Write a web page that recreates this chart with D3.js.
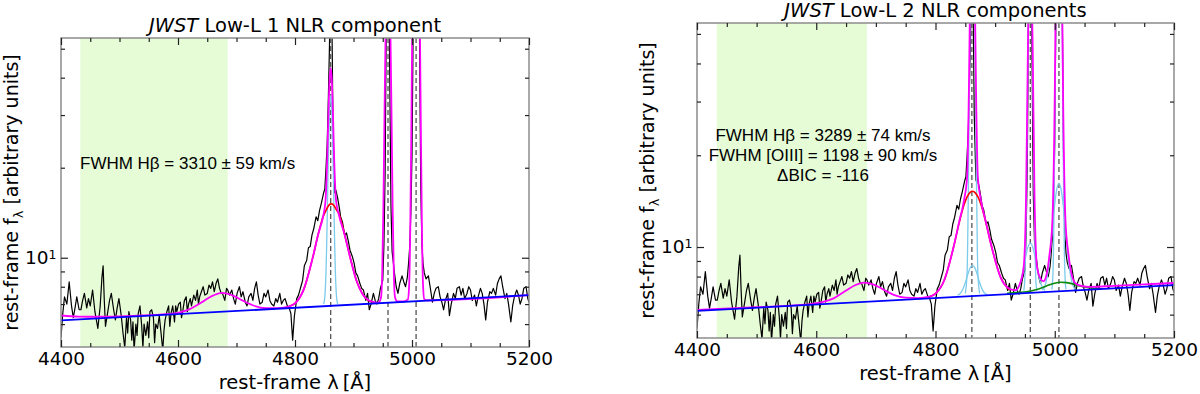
<!DOCTYPE html>
<html>
<head>
<meta charset="utf-8">
<script src="https://cdn.jsdelivr.net/npm/d3@7"></script>
<style>
body{margin:0;background:#fff}
svg{display:block}
</style>
</head>
<body>
<svg id="chart" width="1200" height="394"></svg>
<script>

// observed spectrum, [rest wavelength (A), flux] - same spectrum in both panels
var spectrum = [[4400,5.4],[4403,6.5],[4406,7.4],[4410,7.0],[4414,8.3],[4418,6.9],[4421,6.3],[4424,6.8],[4427,7.4],[4431,6.7],
[4434,6.7],[4437,7.2],[4440,7.6],[4444,6.8],[4447,7.3],[4450,6.9],[4454,7.8],[4458,6.6],[4463,5.8],[4467,6.9],
[4470,8.6],[4472,9.4],[4474,7.2],[4476,5.9],[4480,6.6],[4483,7.2],[4486,7.6],[4490,6.7],[4493,6.2],[4496,6.8],
[4499,7.3],[4503,6.4],[4506,5.6],[4509,5.0],[4512,6.3],[4514,5.6],[4516,6.6],[4519,6.2],[4521,5.3],[4523,6.1],
[4525,4.9],[4528,6.0],[4530,5.5],[4532,6.5],[4535,6.9],[4538,5.9],[4540,5.0],[4542,6.0],[4545,5.5],[4548,6.1],
[4550,5.4],[4552,6.6],[4555,6.7],[4558,6.3],[4560,5.2],[4562,6.0],[4565,5.8],[4568,6.4],[4571,5.6],[4574,4.9],
[4576,5.7],[4578,6.2],[4581,6.6],[4584,6.9],[4586,5.9],[4588,6.5],[4591,6.9],[4594,6.1],[4596,6.9],[4598,6.6],
[4601,7.0],[4604,7.1],[4606,6.3],[4608,6.6],[4611,7.2],[4614,7.4],[4616,6.6],[4618,7.0],[4621,7.3],[4623,6.9],
[4627,7.5],[4630,7.2],[4633,7.8],[4635,7.0],[4637,7.4],[4640,7.7],[4643,8.0],[4646,7.5],[4650,7.6],[4653,8.1],
[4656,7.9],[4659,8.3],[4662,7.7],[4665,8.2],[4668,8.5],[4671,7.9],[4674,7.6],[4676,7.6],[4680,7.2],[4683,7.9],
[4685,7.8],[4688,7.5],[4692,7.8],[4695,7.3],[4698,7.0],[4701,7.6],[4705,8.0],[4708,7.4],[4711,7.7],[4715,7.1],
[4718,6.9],[4721,7.4],[4725,7.6],[4728,7.2],[4731,7.9],[4734,8.3],[4737,7.5],[4740,7.0],[4744,7.1],[4747,7.6],
[4750,7.4],[4754,7.8],[4757,7.2],[4760,7.0],[4764,6.9],[4767,7.3],[4770,7.1],[4774,7.6],[4777,7.0],[4780,7.2],
[4783,7.3],[4787,6.9],[4790,6.8],[4793,6.5],[4796,5.3],[4799,6.4],[4803,7.3],[4806,7.5],[4810,8.0],[4813,8.4],
[4816,9.4],[4820,9.8],[4823,10.8],[4826,10.9],[4829,11.9],[4832,12.5],[4836,13.7],[4839,13.3],[4842,14.4],[4845,15.2],
[4849,16.5],[4851,17.0],[4853,19.9],[4855,24],[4857,34],[4859,52],[4860,70],[4862,80],[4863,65],[4865,27],
[4867,19],[4868,16.5],[4870,16.8],[4873,15.8],[4876,14.6],[4878,13.7],[4881,13.2],[4885,11.9],[4888,12.1],[4891,11.4],
[4894,10.6],[4898,10.1],[4901,9.6],[4904,8.9],[4907,8.7],[4911,8.2],[4914,7.9],[4917,7.8],[4921,7.2],[4924,7.6],
[4927,6.7],[4930,7.0],[4934,7.6],[4937,7.2],[4940,7.0],[4943,7.3],[4946,7.9],[4950,8.4],[4952,11],[4954,19],
[4956,60],[4958,120],[4960,100],[4962,40],[4964,15],[4966,10.5],[4970,8.9],[4973,8.0],[4976,7.6],[4979,8.2],
[4983,8.7],[4986,8.3],[4989,8.0],[4992,8.6],[4994,9.5],[4996,10.8],[4998,14],[5000,22],[5002,60],[5005,200],
[5008,250],[5011,150],[5013,50],[5015,17],[5017,11],[5019,9.5],[5021,8.9],[5024,8.5],[5028,8.7],[5031,8.0],
[5035,7.1],[5038,7.6],[5041,7.9],[5045,8.0],[5048,7.4],[5051,7.1],[5054,6.7],[5057,7.2],[5061,7.6],[5064,6.4],
[5067,7.0],[5071,7.6],[5074,7.3],[5077,7.9],[5081,8.0],[5084,7.5],[5087,7.9],[5090,7.3],[5094,7.6],[5097,8.0],
[5100,7.8],[5103,7.2],[5107,7.5],[5110,6.9],[5113,7.4],[5117,7.9],[5120,7.6],[5123,7.0],[5126,6.2],[5129,7.1],
[5133,7.7],[5136,7.6],[5139,7.9],[5143,7.5],[5146,8.2],[5149,8.5],[5152,8.7],[5155,8.0],[5159,7.3],[5162,7.6],
[5165,7.0],[5169,6.1],[5172,6.9],[5175,7.4],[5179,7.8],[5182,7.5],[5185,7.0],[5188,7.3],[5191,7.9],[5195,8.0],
[5198,7.3],[5200,7.1]];

// power-law continuum (blue)
var continuum = [[4400,6.17],[5200,7.50]];

// 1 NLR component fit
var fit1Total = [[4400,6.41],[4430,6.36],[4460,6.35],[4500,6.37],[4540,6.41],[4580,6.48],[4600,6.54],[4620,6.73],[4640,7.08],[4655,7.39],
[4675,7.63],[4695,7.46],[4710,7.20],[4730,6.91],[4750,6.79],[4770,6.79],[4785,6.84],[4800,7.04],[4815,7.84],[4830,9.95],
[4840,12.05],[4848,13.74],[4852,15.39],[4855,21.15],[4857,29.5],[4859,38.9],[4861,43.1],[4863,38.9],[4865,29.7],[4867,21.3],
[4870,15.65],[4875,13.93],[4885,11.91],[4895,9.88],[4905,8.39],[4915,7.58],[4925,7.22],[4935,7.11],[4943,7.08],[4947,7.36],
[4949,8.79],[4951,14.4],[4953,30.1],[4955,59],[4957,92],[4959,107],[4961,92],[4963,59],[4965,30.1],[4967,14.4],
[4969,8.79],[4971,7.37],[4975,7.15],[4985,7.14],[4993,7.26],[4995,8.0],[4997,12.3],[4999,29],[5001,76],[5003,156],
[5005,255],[5007,307],[5009,255],[5011,156],[5013,76],[5015,29],[5017,12.3],[5019,8.0],[5021,7.27],[5025,7.21],[5200,7.50]];
var fit1Broad = [[4790,6.88],[4800,7.04],[4815,7.84],[4830,9.95],[4840,12.05],[4848,13.70],[4853,14.40],[4858,15.00],[4862,15.14],
[4866,15.00],[4871,14.45],[4876,13.90],[4885,11.90],[4895,9.90],[4905,8.40],[4915,7.60],[4925,7.20],[4935,7.10]];
var fit1NarrowHb = [[4849,7.0],[4851,7.4],[4853,9.0],[4854,10.7],[4855,13.3],[4856,17.0],[4857,21.5],[4859,30.7],[4861,34.9],
[4863,30.7],[4865,21.5],[4866,17.0],[4867,13.3],[4868,10.7],[4869,9.0],[4871,7.4],[4873,7.0]];

// 2 NLR components fit
var fit2Total = [[4400,6.22],[4500,6.35],[4580,6.47],[4610,6.59],[4630,6.80],[4650,7.20],[4665,7.49],[4680,7.64],[4695,7.54],[4710,7.30],
[4730,6.97],[4750,6.82],[4770,6.80],[4790,6.87],[4800,7.03],[4815,7.81],[4830,9.94],[4840,12.17],[4848,14.30],[4853,16.97],
[4856,32.6],[4858,66],[4862,137],[4866,66],[4868,32.6],[4871,17.0],[4876,14.3],[4884,12.2],[4894,10.04],[4909,7.97],
[4924,7.30],[4934,7.22],[4942,7.62],[4948,8.64],[4952,15.1],[4955,44.9],[4957,78.3],[4959,95.4],[4961,78.3],[4963,44.9],
[4966,15.1],[4970,8.65],[4976,7.89],[4981,7.72],[4986,8.08],[4991,9.37],[4996,12.15],[5000,31.1],[5003,120.6],[5007,271.7],
[5011,120.6],[5014,31.1],[5018,12.2],[5023,9.48],[5028,8.18],[5035,7.59],[5045,7.45],[5060,7.40],[5100,7.46],[5150,7.54],[5200,7.62]];
var fit2Broad = [[4790,6.87],[4800,7.03],[4815,7.81],[4830,9.94],[4840,12.08],[4848,13.78],[4853,14.60],[4858,15.11],[4862,15.24],
[4866,15.11],[4871,14.62],[4876,13.84],[4884,12.15],[4894,10.04],[4909,7.97],[4924,7.23]];
var fit2CoreHb = [[4850,7.05],[4853,8.25],[4854,10.4],[4855,14.9],[4856,23.1],[4857,36.8],[4858,56.2],[4859,80],[4862,127],
[4865,80],[4866,56.2],[4867,36.8],[4868,23.1],[4869,14.9],[4870,10.4],[4871,8.25],[4874,7.05]];
var fit2WingHb = [[4837,6.95],[4842,7.06],[4846,7.28],[4850,7.64],[4854,8.12],[4858,8.53],[4862,8.70],[4866,8.54],[4870,8.13],
[4874,7.65],[4878,7.29],[4882,7.07],[4887,6.97]];
var fit2Core4959 = [[4948,7.2],[4949,7.44],[4950,8.04],[4951,9.6],[4952,12.7],[4953,18.6],[4954,28.3],[4955,42],[4956,58.7],[4959,92],
[4962,58.7],[4963,42],[4964,28.3],[4965,18.6],[4966,12.7],[4967,9.6],[4968,8.04],[4969,7.44],[4970,7.2]];
var fit2Wing4959 = [[4934,7.16],[4939,7.36],[4943,7.75],[4947,8.41],[4951,9.26],[4955,9.99],[4959,10.30],[4963,10.0],[4967,9.27],
[4971,8.42],[4975,7.78],[4979,7.39],[4984,7.2]];
var fit2Core5007 = [[4995,7.26],[4996,7.5],[4997,8.2],[4998,10],[4999,14.6],[5000,24],[5001,41.6],[5002,70.7],[5003,112],[5004,162],
[5007,262],[5010,162],[5011,112],[5012,70.7],[5013,41.6],[5014,24],[5015,14.6],[5016,10],[5017,8.2],[5018,7.5],[5019,7.26]];
var fit2Wing5007 = [[4979,7.23],[4983,7.41],[4987,7.94],[4991,9.03],[4995,10.88],[4999,13.25],[5003,15.33],[5007,16.18],[5011,15.33],
[5015,13.25],[5019,10.88],[5023,9.03],[5027,7.95],[5031,7.43],[5035,7.26]];
var fit2Green = [[4920,7.05],[4960,7.17],[4970,7.25],[4980,7.37],[4990,7.50],[5000,7.61],[5010,7.66],[5020,7.64],[5030,7.57],
[5040,7.46],[5050,7.38],[5060,7.34],[5070,7.31],[5080,7.30]];

var lineCentres = [4861, 4959, 5007];
var shadedBand = [4433, 4685];
var xMajor = [4400, 4600, 4800, 5000, 5200];
var xMinor = [4450, 4500, 4550, 4650, 4700, 4750, 4850, 4900, 4950, 5050, 5100, 5150];
var yMajor = [10];
var yMinor = [6, 7, 8, 9, 20, 30, 40, 50];

var svg = d3.select('#chart');

var panels = [
  {id: 'a', l: 61, r: 529, t: 38, b: 347, title: ' Low-L 1 NLR component',
   notes: [{text: 'FWHM H\u03b2 = 3310 \u00b1 59 km/s', x: 80, y: 169, anchor: 'start'}],
   cyan: [fit1NarrowHb], green: null, red: fit1Broad, total: fit1Total},
  {id: 'b', l: 697, r: 1174, t: 23, b: 338, title: ' Low-L 2 NLR components',
   notes: [{text: 'FWHM H\u03b2 = 3289 \u00b1 74 km/s', x: 823, y: 141, anchor: 'middle'},
           {text: 'FWHM [OIII] = 1198 \u00b1 90 km/s', x: 823, y: 161, anchor: 'middle'},
           {text: '\u0394BIC = -116', x: 823, y: 181, anchor: 'middle'}],
   cyan: [fit2WingHb, fit2Wing4959, fit2Wing5007, fit2CoreHb, fit2Core4959, fit2Core5007],
   green: fit2Green, red: fit2Broad, total: fit2Total}
];

var sans = 'DejaVu Sans, sans-serif';

panels.forEach(function(p){

  var x = d3.scaleLinear().domain([4400, 5200]).range([p.l, p.r]);
  var y = d3.scaleLog().domain([5.03, 54.3]).range([p.b, p.t]);

  svg.append('clipPath').attr('id', 'clip' + p.id)
    .append('rect')
    .attr('x', p.l).attr('y', p.t)
    .attr('width', p.r - p.l).attr('height', p.b - p.t);

  var g = svg.append('g');
  var plot = g.append('g').attr('clip-path', 'url(#clip' + p.id + ')');

  plot.append('rect')
    .attr('x', x(shadedBand[0]))
    .attr('y', p.t)
    .attr('width', x(shadedBand[1]) - x(shadedBand[0]))
    .attr('height', p.b - p.t)
    .style('fill', '#e5fcd6');

  var smooth = d3.line().x(function(d){return x(d[0]);}).y(function(d){return y(d[1]);}).curve(d3.curveMonotoneX);
  var straight = d3.line().x(function(d){return x(d[0]);}).y(function(d){return y(d[1]);});

  plot.append('path').datum(spectrum)
    .attr('d', straight)
    .style('fill', 'none').style('stroke', '#000').style('stroke-width', 1.2)
    .style('stroke-linejoin', 'round');

  plot.selectAll('.vline').data(lineCentres).enter()
    .append('line')
    .attr('x1', function(d){return x(d);}).attr('x2', function(d){return x(d);})
    .attr('y1', p.t).attr('y2', p.b)
    .style('stroke', '#555').style('stroke-width', 1.3).style('stroke-dasharray', '5,3');

  p.cyan.forEach(function(c){
    plot.append('path').datum(c).attr('d', smooth)
      .style('fill', 'none').style('stroke', '#7ccbeb').style('stroke-width', 1.3);
  });

  if(p.green){
    plot.append('path').datum(p.green).attr('d', smooth)
      .style('fill', 'none').style('stroke', '#0a8a0a').style('stroke-width', 1.6);
  }

  plot.append('path').datum(p.red).attr('d', smooth)
    .style('fill', 'none').style('stroke', '#ff0000').style('stroke-width', 1.6);

  plot.append('path').datum(p.total).attr('d', smooth)
    .style('fill', 'none').style('stroke', '#ff00ff').style('stroke-width', 1.8);

  plot.append('path').datum(continuum).attr('d', straight)
    .style('fill', 'none').style('stroke', '#0000ff').style('stroke-width', 1.8);

  // frame
  g.append('rect')
    .attr('x', p.l).attr('y', p.t)
    .attr('width', p.r - p.l).attr('height', p.b - p.t)
    .style('fill', 'none').style('stroke', '#8c8c8c').style('stroke-width', 1.5);

  var blank = function(){ return ''; };

  var axes = [
    g.append('g').attr('transform', 'translate(0,' + p.b + ')')
      .call(d3.axisBottom(x).tickValues(xMajor).tickSize(-7).tickPadding(5).tickFormat(d3.format('d'))),
    g.append('g').attr('transform', 'translate(0,' + p.b + ')')
      .call(d3.axisBottom(x).tickValues(xMinor).tickSize(-4).tickFormat(blank)),
    g.append('g').attr('transform', 'translate(0,' + p.t + ')')
      .call(d3.axisTop(x).tickValues(xMajor).tickSize(-7).tickFormat(blank)),
    g.append('g').attr('transform', 'translate(0,' + p.t + ')')
      .call(d3.axisTop(x).tickValues(xMinor).tickSize(-4).tickFormat(blank)),
    g.append('g').attr('transform', 'translate(' + p.l + ',0)')
      .call(d3.axisLeft(y).tickValues(yMajor).tickSize(-7).tickPadding(4.5).tickFormat(function(){ return '10'; })),
    g.append('g').attr('transform', 'translate(' + p.l + ',0)')
      .call(d3.axisLeft(y).tickValues(yMinor).tickSize(-4).tickFormat(blank)),
    g.append('g').attr('transform', 'translate(' + p.r + ',0)')
      .call(d3.axisRight(y).tickValues(yMajor).tickSize(-7).tickFormat(blank)),
    g.append('g').attr('transform', 'translate(' + p.r + ',0)')
      .call(d3.axisRight(y).tickValues(yMinor).tickSize(-4).tickFormat(blank))
  ];

  axes.forEach(function(a){
    a.select('.domain').remove();
    a.selectAll('line').style('stroke', '#222').style('stroke-width', 1.2);
    a.selectAll('text').style('font-family', sans).style('font-size', '18.5px').style('fill', '#000');
  });

  // superscript on the 10^1 label
  axes[4].selectAll('text').append('tspan')
    .text('1').attr('dy', '-0.45em').style('font-size', '12.5px');

  // title
  var title = g.append('text')
    .attr('x', (p.l + p.r) / 2).attr('y', p.t - 6.5)
    .attr('text-anchor', 'middle')
    .style('font-family', sans).style('font-size', '19.5px');
  title.append('tspan').text('JWST').style('font-style', 'italic');
  title.append('tspan').text(p.title);

  // x label
  g.append('text')
    .attr('x', (p.l + p.r) / 2).attr('y', p.b + 41.5)
    .attr('text-anchor', 'middle')
    .style('font-family', sans).style('font-size', '19.5px')
    .text('rest-frame \u03bb\u2009[\u00c5]');

  // y label
  var yl = g.append('text')
    .attr('transform', 'translate(' + (p.l - 43.5) + ',' + ((p.t + p.b) / 2) + ') rotate(-90)')
    .attr('text-anchor', 'middle')
    .style('font-family', sans).style('font-size', '19px');
  yl.append('tspan').text('rest-frame f');
  yl.append('tspan').text('\u03bb').attr('dy', 5).style('font-size', '13px');
  yl.append('tspan').text(' [arbitrary units]').attr('dy', -5);

  // annotations
  p.notes.forEach(function(n){
    g.append('text')
      .attr('x', n.x).attr('y', n.y)
      .attr('text-anchor', n.anchor)
      .style('font-family', 'Liberation Sans, Arial, sans-serif').style('font-size', '17px')
      .text(n.text);
  });
});

</script>
</body>
</html>
